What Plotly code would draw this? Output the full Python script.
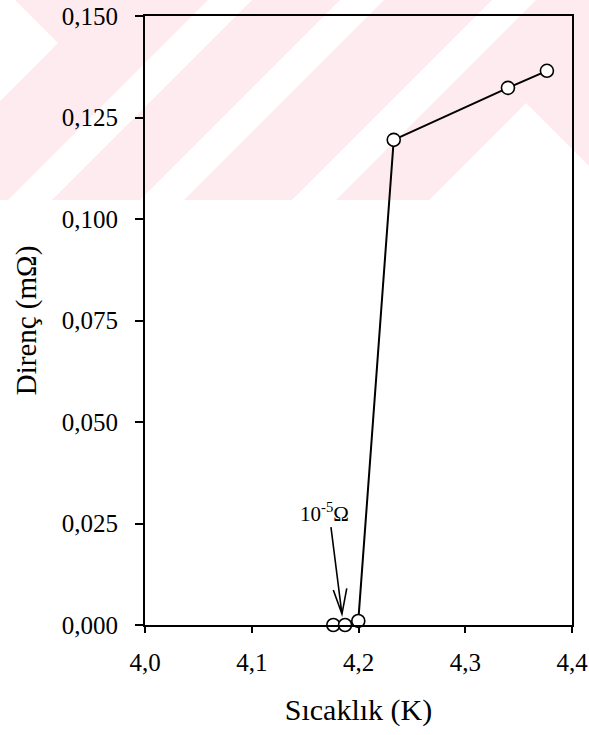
import plotly.graph_objects as go

# ---- data ----
temperature_K = [4.1764, 4.1874, 4.1998, 4.233, 4.340, 4.3765]
resistance_mohm = [0.0, 0.0, 0.001, 0.1195, 0.1323, 0.1365]

x_ticks = [4.0, 4.1, 4.2, 4.3, 4.4]
y_ticks = [0.0, 0.025, 0.05, 0.075, 0.1, 0.125, 0.15]

# annotation "10^-5 Ω" and its arrow (data coordinates)
note_text = "10<sup>-5</sup>Ω"
note_pos = (4.1686, 0.0278)
arrow_tail = (4.1742, 0.0241)
arrow_tip = (4.1845, 0.0027)
arrow_arm_left = (4.1764, 0.0086)
arrow_arm_right = (4.1890, 0.0090)

FONT = "Liberation Serif"
W, H = 589, 735
ML, MR, MT, MB = 145, 17, 16, 110
PW, PH = W - ML - MR, H - MT - MB

fig = go.Figure()
fig.add_trace(go.Scatter(
    x=temperature_K, y=resistance_mohm, mode="lines+markers",
    line=dict(color="black", width=2),
    marker=dict(symbol="circle", size=13, color="white",
                line=dict(color="black", width=1.6)),
    cliponaxis=False, showlegend=False, hoverinfo="x+y"))

# ---- watermark (decorative, pixel positions converted to paper coords) ----
def px(x, y):
    return f"{(x - ML) / PW:.5f},{(MT + PH - y) / PH:.5f}"

def poly(points):
    return "M " + " L ".join(px(x, y) for x, y in points) + " Z"

PINK = "#fdebef"
shapes = []
shapes.append(dict(type="path", xref="paper", yref="paper", layer="below",
                   path=poly([(0, 0), (W, 0), (W, 200), (0, 200)]),
                   fillcolor=PINK, line=dict(width=0)))
white_polys = [[(0, 0), (15, 0), (58, 43), (0, 101)],
               [(429, 200), (526, 103), (623, 200)]]
for c in [230, 362, 514]:
    white_polys.append([(c - 22, 0), (c + 22, 0), (c - 178, 200), (c - 222, 200)])
for pts in white_polys:
    shapes.append(dict(type="path", xref="paper", yref="paper", layer="below",
                       path=poly(pts), fillcolor="white", line=dict(width=0)))

# arrow for the annotation
ax0, ay0 = arrow_tail
tx, ty = arrow_tip
lx, ly = arrow_arm_left
rx, ry = arrow_arm_right
shapes.append(dict(type="path", xref="x", yref="y",
                   path=f"M {ax0},{ay0} L {tx},{ty} M {lx},{ly} L {tx},{ty} L {rx},{ry}",
                   line=dict(color="black", width=1.6)))

fig.update_layout(
    width=W, height=H,
    margin=dict(l=ML, r=MR, t=MT, b=MB, pad=0, autoexpand=False),
    paper_bgcolor="white", plot_bgcolor="rgba(0,0,0,0)",
    separators=",.",
    font=dict(family=FONT, color="black", size=25),
    shapes=shapes,
    annotations=[dict(x=note_pos[0], y=note_pos[1], xref="x", yref="y",
                      text=note_text, showarrow=False,
                      font=dict(family=FONT, size=21, color="black"))],
    xaxis=dict(range=[4.0, 4.4], tickvals=x_ticks, tickformat=".1f",
               ticks="outside", ticklen=6, tickwidth=1.5, tickcolor="black",
               showline=True, linecolor="black", linewidth=1.8, mirror=True,
               showgrid=False, zeroline=False, automargin=False,
               ticklabelstandoff=8,
               tickfont=dict(family=FONT, size=25),
               title=dict(text="Sıcaklık (K)", standoff=24,
                          font=dict(family=FONT, size=30))),
    yaxis=dict(range=[0, 0.15], tickvals=y_ticks, tickformat=".3f",
               ticks="outside", ticklen=8, tickwidth=1.5, tickcolor="black",
               showline=True, linecolor="black", linewidth=1.8, mirror=True,
               showgrid=False, zeroline=False, automargin=False,
               ticklabelstandoff=12,
               tickfont=dict(family=FONT, size=25),
               title=dict(text="Direnç (mΩ)", standoff=17,
                          font=dict(family=FONT, size=29))),
)

fig.write_html(
    "out.html",
    config={"displayModeBar": False},
    post_script="document.body.style.margin='0';document.body.style.overflow='hidden';",
)
